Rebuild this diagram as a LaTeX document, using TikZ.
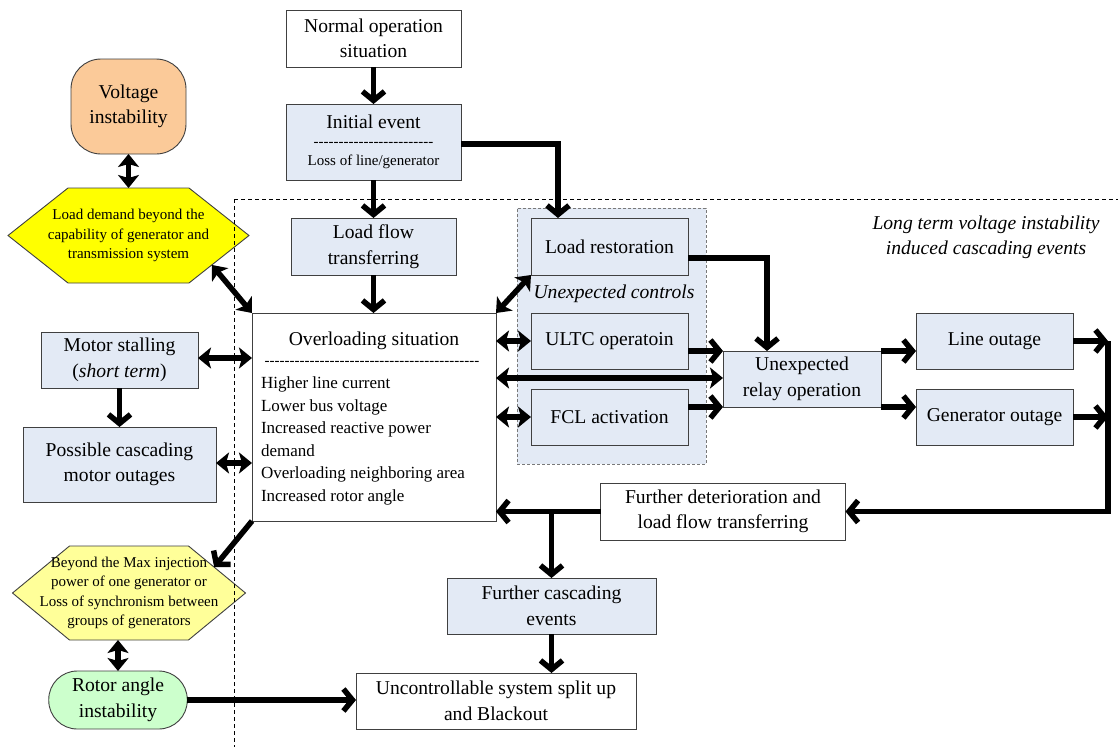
\documentclass[tikz,border=0pt]{standalone}
\usepackage{fontspec}
\setmainfont{Liberation Serif}
% plain family without TeX ligatures, so rows of hyphens stay hyphens
\newfontfamily\hyfont{Liberation Serif}
\usetikzlibrary{arrows.meta,backgrounds,calc}

\definecolor{boxblue}{RGB}{227,234,245}
\definecolor{peach}{RGB}{251,202,153}
\definecolor{hexyellow}{RGB}{255,255,0}
\definecolor{paleyellow}{RGB}{255,255,153}
\definecolor{palegreen}{RGB}{204,255,204}
\definecolor{edge}{RGB}{64,64,64}

\newcommand\mainsz{\fontsize{19.6}{25.5}\selectfont}
\newcommand\smallsz{\fontsize{15}{19.5}\selectfont}
\newcommand\listsz{\fontsize{17}{22.5}\selectfont}

\begin{document}
\begin{tikzpicture}[x=1pt,y=-1pt,
  every node/.style={inner sep=0pt, outer sep=0pt},
  bx/.style={draw=edge, line width=0.9pt, align=center, font=\mainsz},
  bbox/.style={bx, fill=boxblue},
  wbox/.style={bx, fill=white},
  sz/.style 2 args={minimum width=#1pt, minimum height=#2pt},
  barb/.tip={Straight Barb[length=9pt,width=22pt]},
  solid head/.tip={Stealth[length=13pt,width=21pt,inset=3pt]},
  arr/.style={line width=5.5pt, -barb},
  darr/.style={line width=5.5pt, solid head-solid head},
  hexshape/.style={draw=edge, line width=0.9pt},
  sepline/.style={line width=0.8pt, dash pattern=on 4pt off 3pt},
  ]
\useasboundingbox (0,0) rectangle (1118,747);

% ---- main chain ----
\node[wbox, sz={175}{57}] (norm) at (373.5,38.5) {Normal operation\\situation};
\node[bbox, sz={175}{76}, font=\smallsz] (init) at (373.5,142)
  {\raisebox{-2pt}{\fontsize{19.6}{20}\selectfont Initial event}\\{\hyfont ------------------------}\\Loss of line/generator};
\node[bbox, sz={165}{57}] (lft) at (373.5,246.5) {Load flow\\transferring};
\node[wbox, sz={244}{208}] (over) at (374,417) {};
\node[font=\mainsz] at (374,341) {Overloading situation};
\node[font=\smallsz] at (372,363) {\hyfont -------------------------------------------};
\node[font=\listsz, align=left, anchor=north west] at (261,377)
  {Higher line current\\Lower bus voltage\\Increased reactive power\\demand\\Overloading neighboring area\\Increased rotor angle};

% ---- left column ----
\node[bx, fill=peach, rounded corners=30pt, sz={115}{95}] (vi) at (128.5,106.5) {Voltage\\instability};
\node[font=\smallsz, align=center, sz={241}{95}] (h1) at (128.5,235.5)
  {Load demand beyond the\\capability of generator and\\transmission system};
\node[bbox, sz={157}{56}] (mstall) at (119.5,360) {Motor stalling\\(\textit{short term})};
\node[bbox, sz={193}{75}] (pcasc) at (119.5,464.5) {Possible cascading\\motor outages};
\node[font=\smallsz, align=center, sz={233}{94}] (h2) at (129,593)
  {Beyond the Max injection\\power of one generator or\\Loss of synchronism between\\groups of generators};
\node[bx, fill=palegreen, rounded corners=28.5pt, sz={138.5}{58}] (rotor) at (118,700) {Rotor angle\\instability};

% ---- unexpected controls and outages ----
\node[bbox, sz={157}{57}] (lrest) at (609.5,246.5) {Load restoration};
\node[font=\mainsz\itshape] at (614,294) {Unexpected controls};
\node[bbox, sz={157}{56}] (ultc) at (609.5,341) {ULTC operatoin};
\node[bbox, sz={157}{56}] (fcl) at (609.5,417) {FCL activation};
\node[bbox, sz={158}{56}] (relay) at (802,379) {Unexpected\\relay operation};
\node[bbox, sz={157}{56}] (lout) at (994.5,341) {Line outage};
\node[bbox, sz={157}{56}] (gout) at (994.5,417) {Generator outage};
\node[font=\mainsz\itshape, align=center] at (986,237.5)
  {Long term voltage instability\\induced cascading events};
\node[wbox, sz={245}{57}] (fdet) at (723,511.5) {Further deterioration and\\load flow transferring};
\node[bbox, sz={209}{56}] (fcasc) at (551.5,606) {Further cascading\\events};
\node[wbox, sz={280}{56}] (unc) at (496,701) {Uncontrollable system split up\\and Blackout};

% ---- shapes behind the nodes ----
\begin{scope}[on background layer]
  \fill[white] (0,0) rectangle (1118,747);
  \node[fill=boxblue, draw=edge!70, line width=0.8pt, dash pattern=on 3pt off 2pt,
        sz={189}{256}] (ctrl) at (611.5,336) {};
  \draw[hexshape, fill=hexyellow] (h1.west) -- ([xshift=60pt]h1.north west)
    -- ([xshift=-60pt]h1.north east) -- (h1.east)
    -- ([xshift=-60pt]h1.south east) -- ([xshift=60pt]h1.south west) -- cycle;
  \draw[hexshape, fill=paleyellow] (h2.west) -- ([xshift=57pt]h2.north west)
    -- ([xshift=-57pt]h2.north east) -- (h2.east)
    -- ([xshift=-57pt]h2.south east) -- ([xshift=57pt]h2.south west) -- cycle;
  \coordinate (dtop) at (234,199);
  \draw[sepline] (dtop) -- (234,747);
  \draw[sepline] (dtop) -- (1118,199);
\end{scope}

% ---- connectors ----
\coordinate (h1se) at ($(h1.east)!0.62!([xshift=-60pt]h1.south east)$);
\coordinate (h2ne) at ($([xshift=-57pt]h2.north east)!0.45!(h2.east)$);
\coordinate (bus) at (1108,339);

\draw[arr] (norm) -- (init);
\draw[arr] (init) -- (lft);
\draw[arr] (lft.south) -- (lft.south |- over.north);
\draw[arr] ([yshift=-2pt]init.east) -| ([xshift=-51.5pt]lrest.north);
\draw[arr] ([yshift=-11.5pt]lrest.east) -| ([xshift=-35pt]relay.north);

\draw[darr] (vi.south) -- (h1.north);
\draw[darr] (h1se) -- (over.north west);
\draw[darr] (over.north east) -- (lrest.south west);
\draw[darr] ([yshift=2pt]mstall.east) -- ([yshift=2pt]mstall.east -| over.west);
\draw[arr] (mstall) -- (pcasc);
\draw[darr] ([yshift=1.5pt]pcasc.east) -- ([yshift=1.5pt]pcasc.east -| over.west);
\draw[arr] (over.south west) -- (h2ne);
\draw[darr] (rotor.north |- h2.south) -- (rotor.north);
\draw[arr] (rotor.east) -- (rotor.east -| unc.west);

\draw[darr] (ultc.west -| over.east) -- (ultc.west);
\draw[darr] (fcl.west -| over.east) -- (fcl.west);
\draw[darr] ([yshift=1pt]relay.west -| over.east) -- ([yshift=1pt]relay.west);
\draw[arr] ([yshift=-10pt]ultc.east) -- ([yshift=-10pt]ultc.east -| relay.west);
\draw[arr] ([yshift=10pt]fcl.east) -- ([yshift=10pt]fcl.east -| relay.west);
\draw[arr] (relay.north east) -- (relay.north east -| lout.west);
\draw[arr] (relay.south east) -- (relay.south east -| gout.west);

\draw[arr] (lout.east) -- (lout.east -| bus);
\draw[arr] (gout.east) -- (gout.east -| bus);
\draw[arr] (lout.east -| bus) -- (bus |- fdet.east) -- (fdet.east);
\draw[arr] (fdet.west) -- (fdet.west -| over.east);
\draw[arr] (fcasc.north |- fdet.west) -- (fcasc.north);
\draw[arr] (fcasc.south) -- (fcasc.south |- unc.north);
\end{tikzpicture}
\end{document}
